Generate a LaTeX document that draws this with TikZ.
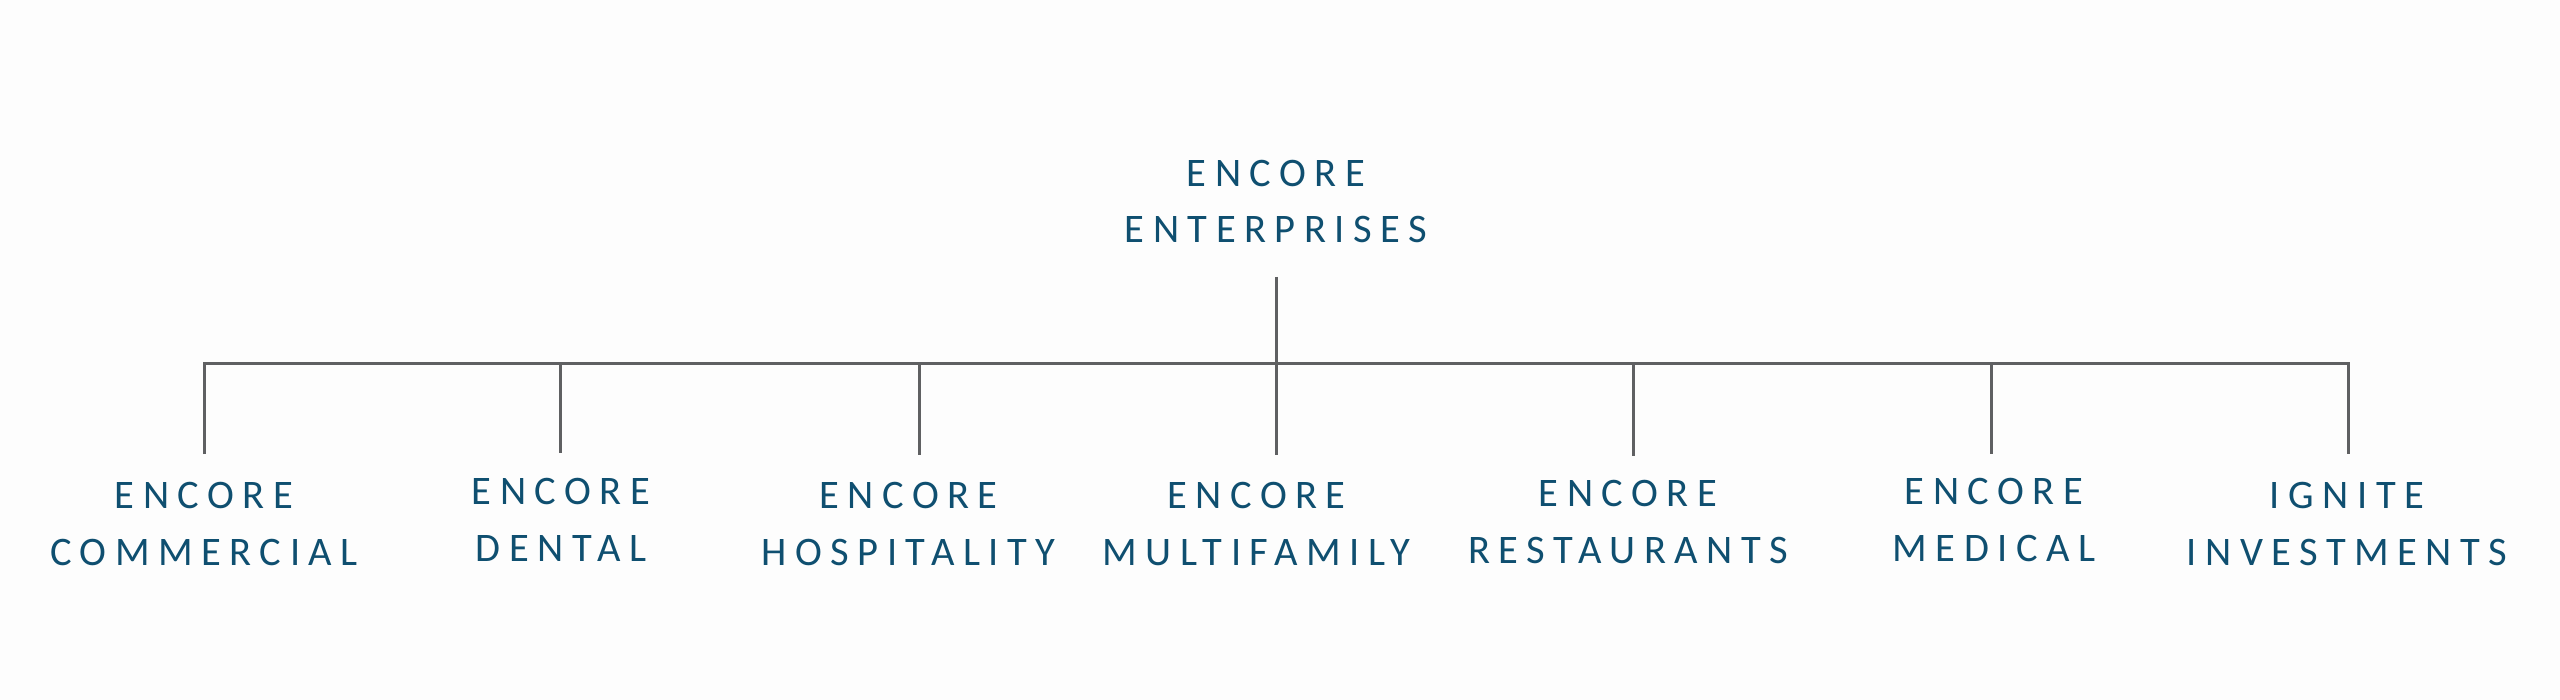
\documentclass[tikz,border=0pt]{standalone}
\usepackage{fontspec}
\setmainfont{Carlito}[LetterSpace=21]
\definecolor{txt}{HTML}{0F4F70}
\definecolor{ln}{HTML}{5F6062}
\definecolor{bg}{HTML}{FDFDFD}
\begin{document}
\begin{tikzpicture}[x=1pt,y=-1pt,
  lbl/.style={inner sep=0pt, anchor=base, align=center, text=txt,
    font=\fontsize{40.5}{56.5}\selectfont},
  conn/.style={draw=ln, line width=3pt}]
\fill[bg] (0,0) rectangle (2560,700);
\useasboundingbox (0,0) rectangle (2560,700);
% nodes (base anchor = baseline of the last line)
\node[lbl] (top) at (1276,243)  {ENCORE\\ENTERPRISES};
\node[lbl] (c1) at (204,565)    {ENCORE\\COMMERCIAL};
\node[lbl] (c2) at (561,561)    {ENCORE\\DENTAL};
\node[lbl] (c3) at (908.5,565)  {ENCORE\\HOSPITALITY};
\node[lbl] (c4) at (1256.5,565) {ENCORE\\MULTIFAMILY};
\node[lbl] (c5) at (1628,563)   {ENCORE\\RESTAURANTS};
\node[lbl] (c6) at (1994,561)   {ENCORE\\MEDICAL};
\node[lbl] (c7) at (2347,565)   {IGNITE\\INVESTMENTS};
% connector ends
\coordinate (ts) at (1276,277);
\coordinate (hub) at (1276,364);
\coordinate (s1) at (204,454);
\coordinate (s2) at (560.5,453);
\coordinate (s3) at (919,455);
\coordinate (s4) at (1276,455);
\coordinate (s5) at (1633,456);
\coordinate (s6) at (1991,454);
\coordinate (s7) at (2348,454);
% connectors
\draw[conn] (ts) -- (hub);
\draw[conn] (s1) -- (s1 |- hub) -- (s7 |- hub) -- (s7);
\foreach \i in {2,...,6} \draw[conn] (s\i |- hub) -- (s\i);
\end{tikzpicture}
\end{document}
